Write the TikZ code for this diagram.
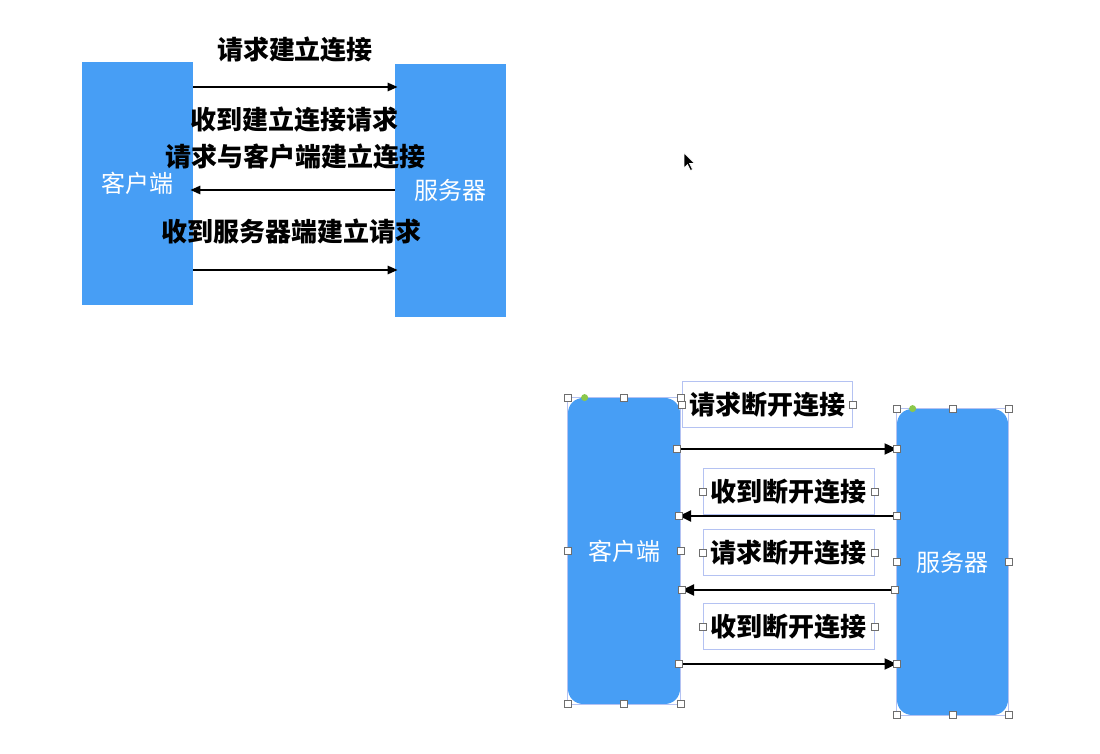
\documentclass[tikz,border=0pt]{standalone}
\usepackage{fontspec}
\setmainfont{Noto Sans CJK SC}
\usetikzlibrary{arrows.meta}
\definecolor{boxblue}{HTML}{479EF5}
\definecolor{selblue}{HTML}{B4C2F2}
\definecolor{handlegray}{HTML}{6E6E6E}
\definecolor{dotgreen}{HTML}{8CC84B}
\tikzset{
  party/.style={fill=boxblue, draw=none, inner sep=0pt, text=white,
    font=\fontsize{12}{14}\selectfont},
  rparty/.style={party, rounded corners=7.5pt},
  lbl/.style={font=\bfseries\fontsize{13}{15}\selectfont, inner sep=0pt},
  tbox/.style={lbl, draw=selblue, line width=0.5pt, minimum height=23pt},
  arr/.style={line width=0.9pt, -{Triangle[length=5pt,width=4.2pt]}},
  barr/.style={line width=1pt, -{Triangle[length=6pt,width=5.5pt]}},
  handle/.style={draw=handlegray, fill=white, line width=0.4pt, rectangle,
    minimum size=3.5pt, inner sep=0pt},
  gdot/.style={circle, fill=dotgreen, draw=none, minimum size=3.5pt, inner sep=0pt},
  selbox/.style={draw=selblue, line width=0.5pt}
}
\begin{document}
\begin{tikzpicture}[x=0.5pt,y=-0.5pt]
\useasboundingbox[fill=white] (0,0) rectangle (1100,754);

% ---------- top diagram ----------
\node[party, minimum width=55.5pt, minimum height=121.5pt] (tc) at (137.5,183.5) {客户端};
\node[party, minimum width=55.5pt, minimum height=126.5pt] (ts) at (450.5,190.5) {服务器};

\node[lbl] (t1) at (295,50) {请求建立连接};
\node[lbl] (t2) at (295,120) {收到建立连接请求};
\node[lbl] (t3) at (295.5,157) {请求与客户端建立连接};
\node[lbl] (t4) at (292,231) {收到服务器端建立请求};

\draw[arr, shorten >=-1.5pt] (tc.east |- 0,87) -- (ts.west |- 0,87);
\draw[arr, shorten >=-1.5pt] (ts.west |- 0,190) -- (tc.east |- 0,190);
\draw[arr, shorten >=-1.5pt] (tc.east |- 0,270) -- (ts.west |- 0,270);

% mouse pointer
\fill[black, draw=white, line width=0.3pt] (684,153) -- (684,168) -- (687.5,164.5) -- (690.5,170.5) -- (692.5,169.5) -- (689.5,163.5) -- (694.5,163.5) -- cycle;

% ---------- bottom diagram ----------
\node[rparty, minimum width=56pt, minimum height=153pt] (bc) at (624,551) {客户端};
\node[rparty, minimum width=55.5pt, minimum height=153pt] (bs) at (952.5,562) {服务器};
\draw[selbox] (bc.north west) rectangle (bc.south east);
\draw[selbox] (bs.north west) rectangle (bs.south east);

\node[tbox, minimum width=85pt] (b1) at (767,405) {请求断开连接};
\node[tbox, minimum width=85.5pt] (b2) at (788.5,492) {收到断开连接};
\node[tbox, minimum width=85.5pt] (b3) at (788.5,553) {请求断开连接};
\node[tbox, minimum width=85.5pt] (b4) at (788.5,627) {收到断开连接};

\coordinate (a1s) at (677,449);
\coordinate (a1e) at (bs.west |- 0,449);
\coordinate (a2s) at (bs.west |- 0,516);
\coordinate (a2e) at (679,516);
\coordinate (a3s) at (895,590);
\coordinate (a3e) at (682,590);
\coordinate (a4s) at (679,664);
\coordinate (a4e) at (bs.west |- 0,664);

\draw[barr] (a1s) -- (a1e);
\draw[barr] (a2s) -- (a2e);
\draw[barr] (a3s) -- (a3e);
\draw[barr] (a4s) -- (a4e);

% selection handles
\foreach \n in {bc,bs}{
  \foreach \a in {north west,north,north east,west,east,south west,south,south east}
    \node[handle] at (\n.\a) {};
}
\node[gdot] at ([xshift=8.5pt]bc.north west) {};
\node[gdot] at ([xshift=8pt]bs.north west) {};
\foreach \n in {b1,b2,b3,b4}{
  \node[handle] at (\n.west) {};
  \node[handle] at (\n.east) {};
}
\foreach \c in {a1s,a1e,a2s,a2e,a3s,a3e,a4s,a4e}
  \node[handle] at (\c) {};
\end{tikzpicture}
\end{document}
